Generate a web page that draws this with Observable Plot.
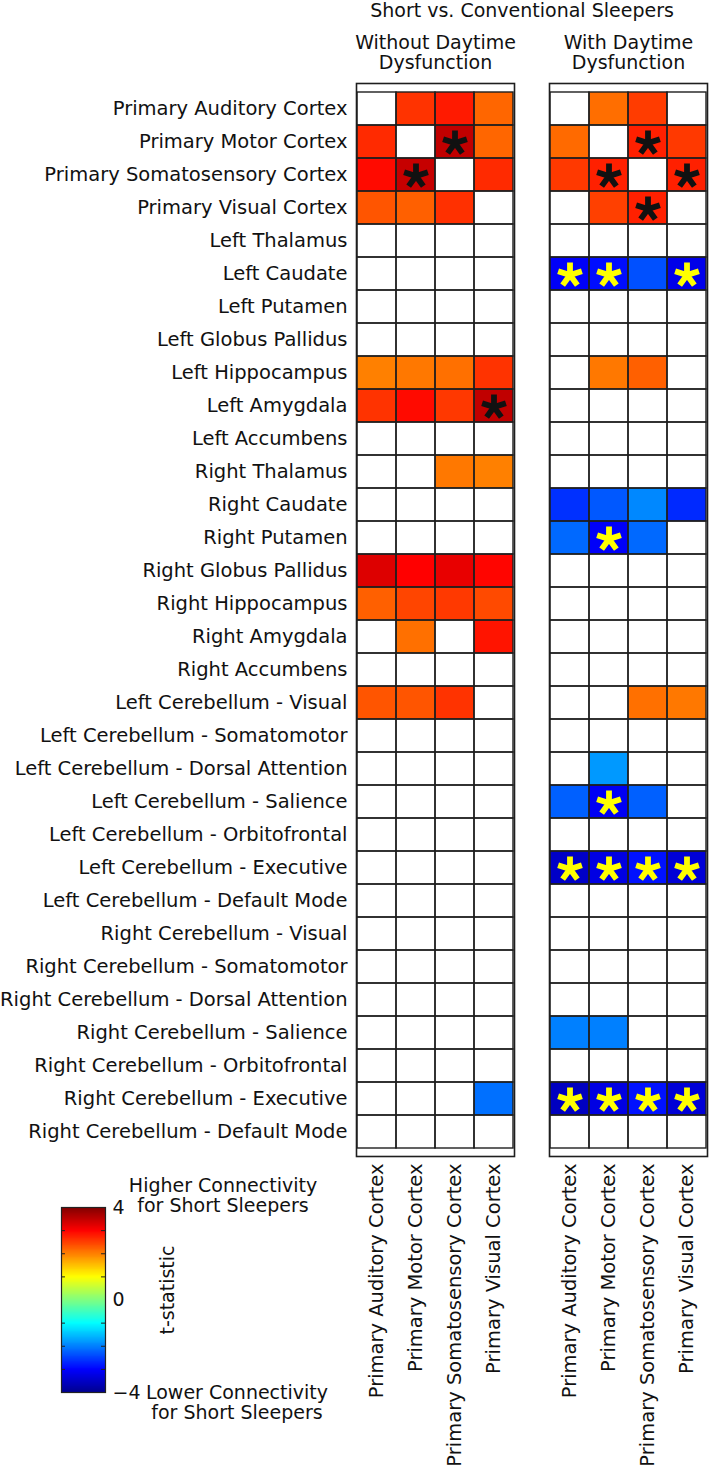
<!DOCTYPE html>
<html><head><meta charset="utf-8">
<script src="https://cdn.jsdelivr.net/npm/d3@7"></script>
<script src="https://cdn.jsdelivr.net/npm/@observablehq/plot@0.6"></script>
<style>
html,body{margin:0;padding:0;background:#fff;}
#wrap{position:relative;width:709px;height:1471px;font-family:"DejaVu Sans",sans-serif;color:#111;}
#wrap svg{position:absolute;}
.lbl{position:absolute;font-size:19px;line-height:20px;white-space:nowrap;text-align:center;}
</style></head><body><div id="wrap"></div>
<script>
const _ = null;
const rows = [
  "Primary Auditory Cortex","Primary Motor Cortex","Primary Somatosensory Cortex","Primary Visual Cortex",
  "Left Thalamus","Left Caudate","Left Putamen","Left Globus Pallidus","Left Hippocampus","Left Amygdala",
  "Left Accumbens","Right Thalamus","Right Caudate","Right Putamen","Right Globus Pallidus","Right Hippocampus",
  "Right Amygdala","Right Accumbens","Left Cerebellum - Visual","Left Cerebellum - Somatomotor",
  "Left Cerebellum - Dorsal Attention","Left Cerebellum - Salience","Left Cerebellum - Orbitofrontal",
  "Left Cerebellum - Executive","Left Cerebellum - Default Mode","Right Cerebellum - Visual",
  "Right Cerebellum - Somatomotor","Right Cerebellum - Dorsal Attention","Right Cerebellum - Salience",
  "Right Cerebellum - Orbitofrontal","Right Cerebellum - Executive","Right Cerebellum - Default Mode"
];
const cols = ["Primary Auditory Cortex","Primary Motor Cortex","Primary Somatosensory Cortex","Primary Visual Cortex"];
const panels = ["Without Daytime\nDysfunction","With Daytime\nDysfunction"];

// t-statistics (null = not significant, drawn white)
const valuesWithout = [
  [_, 2.6, 2.8, 2.2],
  [2.67, _, 3.5, 2.2],
  [2.92, 3.45, _, 2.67],
  [2.33, 2.25, 2.62, _],
  [_, _, _, _],
  [_, _, _, _],
  [_, _, _, _],
  [_, _, _, _],
  [2.0, 2.06, 2.12, 2.6],
  [2.6, 2.92, 2.56, 3.5],
  [_, _, _, _],
  [_, _, 2.06, 2.0],
  [_, _, _, _],
  [_, _, _, _],
  [3.27, 3.0, 3.18, 2.96],
  [2.25, 2.46, 2.55, 2.42],
  [_, 2.12, _, 2.84],
  [_, _, _, _],
  [2.33, 2.33, 2.6, _],
  [_, _, _, _],
  [_, _, _, _],
  [_, _, _, _],
  [_, _, _, _],
  [_, _, _, _],
  [_, _, _, _],
  [_, _, _, _],
  [_, _, _, _],
  [_, _, _, _],
  [_, _, _, _],
  [_, _, _, _],
  [_, _, _, -2.12],
  [_, _, _, _]
];
const valuesWith = [
  [_, 2.14, 2.53, _],
  [2.17, _, 2.75, 2.55],
  [2.55, 2.75, _, 2.75],
  [_, 2.5, 2.75, _],
  [_, _, _, _],
  [-3.05, -2.9, -2.37, -3.2],
  [_, _, _, _],
  [_, _, _, _],
  [_, 2.06, 2.25, _],
  [_, _, _, _],
  [_, _, _, _],
  [_, _, _, _],
  [-2.62, -2.31, -1.93, -2.68],
  [-2.18, -3.05, -2.18, _],
  [_, _, _, _],
  [_, _, _, _],
  [_, _, _, _],
  [_, _, _, _],
  [_, _, 2.12, 2.06],
  [_, _, _, _],
  [_, -1.8, _, _],
  [-2.25, -3.1, -2.25, _],
  [_, _, _, _],
  [-3.5, -3.25, -2.87, -3.37],
  [_, _, _, _],
  [_, _, _, _],
  [_, _, _, _],
  [_, _, _, _],
  [-2.0, -2.0, _, _],
  [_, _, _, _],
  [-3.56, -3.25, -2.87, -3.37],
  [_, _, _, _]
];
// significant cells: [row index, column index]
const starsWithout = [[1,2],[2,1],[9,3]];
const starsWith = [[1,2],[2,1],[2,3],[3,2],[5,0],[5,1],[5,3],[13,1],[21,1],
  [23,0],[23,1],[23,2],[23,3],[30,0],[30,1],[30,2],[30,3]];

const colorTicks = [4, 0, -4];
const colorMinorTicks = [3, 2, 1, -1, -2, -3];
const jetDomain = [-4, -3, -1, 1, 3, 4];
const jetRange = ["#00008f", "#0000ff", "#00ffff", "#ffff00", "#ff0000", "#800000"];

const colorOptions = () => ({type: "linear", domain: jetDomain, range: jetRange, interpolate: "rgb", clamp: true});

const table = [];
const starRows = [];
[valuesWithout, valuesWith].forEach((vals, pi) => {
  rows.forEach((r, ri) => cols.forEach((c, ci) =>
    table.push({panel: panels[pi], row: r, col: c, value: vals[ri][ci]})));
  (pi === 0 ? starsWithout : starsWith).forEach(([ri, ci]) =>
    starRows.push({panel: panels[pi], row: rows[ri], col: cols[ci], value: vals[ri][ci]}));
});

// five-armed asterisk symbol for significance markers
const asterisk5 = {
  draw(context, size) {
    const r = Math.sqrt(size / Math.PI);
    for (let k = 0; k < 5; ++k) {
      const a = -Math.PI / 2 + k * 2 * Math.PI / 5;
      context.moveTo(0, 0);
      context.lineTo(r * Math.cos(a), r * Math.sin(a));
    }
  }
};

const wrap = document.getElementById("wrap");
const cellOpts = {fx: "panel", x: "col", y: "row"};
const starOpts = {...cellOpts, symbol: asterisk5, r: 12.5, fill: "none", strokeWidth: 5.8,
  strokeLinecap: "butt", dy: 1};

const main = Plot.plot({
  width: 709, height: 1471,
  marginLeft: 355, marginRight: 1, marginTop: 83, marginBottom: 315,
  style: {fontFamily: "DejaVu Sans, sans-serif", background: "white", color: "#111", overflow: "visible"},
  fx: {domain: panels, paddingInner: 0.18, paddingOuter: 0},
  x: {domain: cols, padding: 0},
  y: {domain: rows, padding: 0},
  color: colorOptions(),
  marks: [
    Plot.cell(table, {...cellOpts, fill: "white"}),
    Plot.cell(table.filter(d => d.value != null), {...cellOpts, fill: "value"}),
    Plot.cell(table, {...cellOpts, fill: "none", stroke: "#1e1e1e", strokeWidth: 1.4}),
    Plot.frame({stroke: "#1e1e1e", strokeWidth: 1.6}),
    Plot.dot(starRows.filter(d => d.value > 0), {...starOpts, stroke: "#111"}),
    Plot.dot(starRows.filter(d => d.value < 0), {...starOpts, stroke: "#ffff00"}),
    Plot.axisY({fontSize: 19.5, tickSize: 0, tickPadding: 9, label: null}),
    Plot.axisX({fontSize: 19.5, tickSize: 0, tickPadding: 7, tickRotate: -90, label: null}),
    Plot.axisFx({anchor: "top", fontSize: 19, tickSize: 0, tickPadding: 15, lineHeight: 1.05, label: null})
  ]
});
main.style.left = "0px"; main.style.top = "0px";
wrap.appendChild(main);

// vertical colour bar (gradient drawn as thin slices of the colour scale)
const steps = d3.range(-4, 4, 0.04).map(v => ({lo: v, hi: Math.min(4, v + 0.05), mid: v + 0.02}));
const bar = Plot.plot({
  width: 150, height: 230,
  marginTop: 17, marginBottom: 28, marginLeft: 61, marginRight: 45,
  x: {domain: [0, 1], axis: null},
  y: {domain: [-4, 4], axis: null},
  color: colorOptions(),
  style: {fontFamily: "DejaVu Sans, sans-serif", background: "transparent", color: "#111", overflow: "visible"},
  marks: [
    Plot.rect(steps, {x1: d => 0, x2: d => 1, y1: "lo", y2: "hi", fill: "mid", stroke: "mid",
      strokeWidth: 0.6, shapeRendering: "crispEdges"}),
    Plot.frame({stroke: "#222", strokeWidth: 1.2}),
    Plot.ruleY(colorMinorTicks, {y: d => d, x1: d => 0, x2: d => 0.09, stroke: "#222"}),
    Plot.ruleY(colorMinorTicks, {y: d => d, x1: d => 0.91, x2: d => 1, stroke: "#222"}),
    Plot.text(colorTicks, {x: d => 1, y: d => d, text: d => d < 0 ? "\u2212" + Math.abs(d) : String(d),
      textAnchor: "start", dx: 7, fontSize: 19})
  ]
});
bar.style.left = "0px"; bar.style.top = "1190px";
wrap.appendChild(bar);

function label(html, css) {
  const d = document.createElement("div");
  d.className = "lbl"; d.innerHTML = html; Object.assign(d.style, css);
  wrap.appendChild(d);
}
label("Short vs. Conventional Sleepers", {left: "522px", top: "1px", transform: "translateX(-50%)", lineHeight: "19px"});
label("Higher Connectivity<br>for Short Sleepers", {left: "223px", top: "1175px", transform: "translateX(-50%)"});
label("Lower Connectivity<br>for Short Sleepers", {left: "237px", top: "1382px", transform: "translateX(-50%)"});
label("t-statistic", {left: "167px", top: "1290px", transform: "translate(-50%,-50%) rotate(-90deg)"});
</script></body></html>
